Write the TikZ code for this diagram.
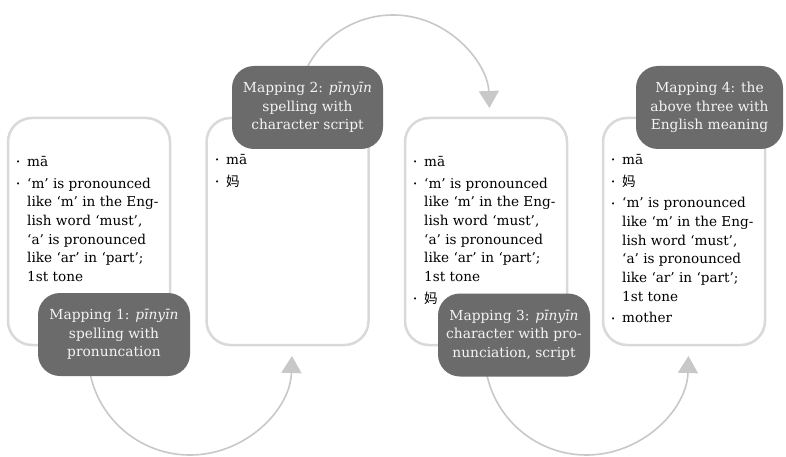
\documentclass[tikz,border=0pt]{standalone}
\usepackage{fontspec}
\setmainfont{DejaVu Serif}
\newfontfamily\cjk{Noto Sans CJK SC}
\usetikzlibrary{arrows.meta}
\definecolor{boxline}{HTML}{D9D9D9}
\definecolor{labfill}{HTML}{6B6B6B}
\definecolor{arrowc}{HTML}{C8C8C8}
\definecolor{labtext}{HTML}{F4F4F4}
\definecolor{bodytext}{HTML}{000000}
\newcommand{\bl}{\raisebox{1.5pt}{\fontsize{7}{7}\selectfont •}}
\newcommand{\itm}[1]{\makebox[11pt][l]{\bl}#1}
\newcommand{\cnt}[1]{\hspace*{11pt}#1}
\newcommand{\pron}{\itm{‘m’ is pronounced}\\
\cnt{like ‘m’ in the Eng-}\\
\cnt{lish word ‘must’,}\\
\cnt{‘a’ is pronounced}\\
\cnt{like ‘ar’ in ‘part’;}\\
\cnt{1st tone}}
\begin{document}
\begin{tikzpicture}[x=1pt,y=-1pt,
  boxst/.style={draw=boxline, line width=2.5pt, fill=white, rounded corners=24pt,
    minimum width=162pt, minimum height=227pt, inner sep=0pt},
  labst/.style={fill=labfill, rounded corners=22pt, minimum height=83pt,
    text=labtext, align=center, font=\fontsize{13.8}{18.5}\selectfont, inner sep=0pt},
  bodytxt/.style={text=bodytext, align=left, anchor=north west,
    font=\fontsize{13.6}{18.7}\selectfont, inner sep=0pt},
  arcst/.style={draw=arrowc, line width=1.6pt, -{Triangle[width=20pt,length=17pt]}}
]
\useasboundingbox (0,0) rectangle (786,457);

% content boxes
\node[boxst] (b1) at (89,231.5) {};
\node[boxst] (b2) at (287.5,231.5) {};
\node[boxst] (b3) at (486,231.5) {};
\node[boxst] (b4) at (684,231.5) {};

% box texts
\node[bodytxt] (t1) at (16,156) {\itm{mā}\\[3pt]\pron};
\node[bodytxt] (t2) at (215,154) {\itm{mā}\\[3pt]\itm{\cjk 妈}};
\node[bodytxt] (t3) at (413,156) {\itm{mā}\\[3pt]\pron\\[3pt]\itm{\cjk 妈}};
\node[bodytxt] (t4) at (611,154) {\itm{mā}\\[3pt]\itm{\cjk 妈}\\[3pt]\pron\\[3pt]\itm{mother}};

% connector arcs
\coordinate (c1) at (190,353);
\coordinate (c2) at (393,111.5);
\coordinate (c3) at (586.5,353);
\coordinate (s1) at ([shift={(175:102)}]c1);
\coordinate (s2) at ([shift={(-160:96.5)}]c2);
\coordinate (s3) at ([shift={(175:102)}]c3);
\draw[arcst] (s1) arc[start angle=175, end angle=1.7, radius=102];
\draw[arcst] (s2) arc[start angle=-160, end angle=-2.1, radius=96.5];
\draw[arcst] (s3) arc[start angle=175, end angle=1.7, radius=102];

% mapping labels
\node[labst, minimum width=152pt] (l1) at (114,334.5) {Mapping 1: \textit{pīnyīn}\\spelling with\\pronuncation};
\node[labst, minimum width=151pt] (l2) at (307.5,107.5) {Mapping 2: \textit{pīnyīn}\\spelling with\\character script};
\node[labst, minimum width=152pt] (l3) at (514,335) {Mapping 3: \textit{pīnyīn}\\character with pro-\\nunciation, script};
\node[labst, minimum width=147pt] (l4) at (709.5,107.5) {Mapping 4: the\\above three with\\English meaning};
\end{tikzpicture}
\end{document}
